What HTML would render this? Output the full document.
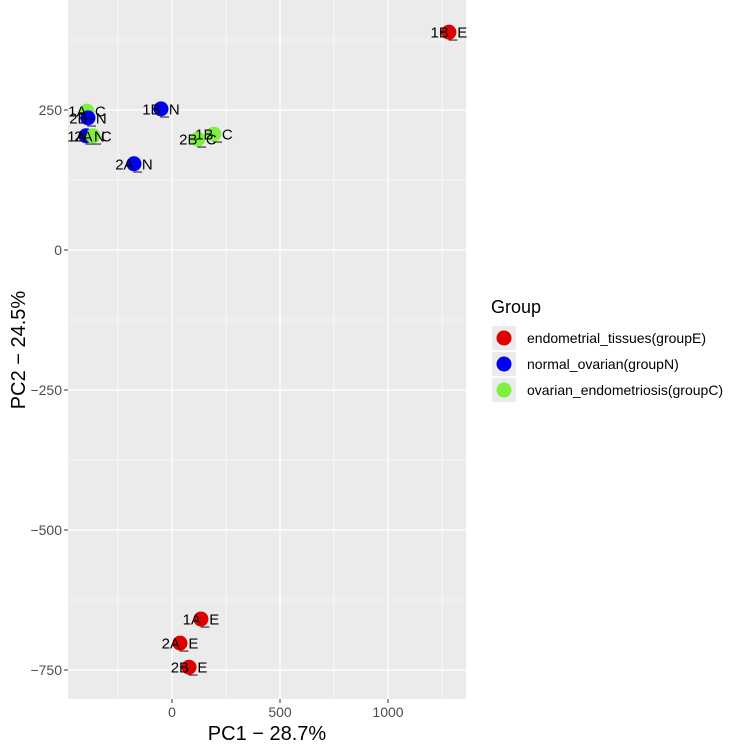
<!DOCTYPE html>
<html><head><meta charset="utf-8"><style>
body{margin:0;background:#fff;font-family:"Liberation Sans",sans-serif}
</style></head><body>
<svg width="738" height="743" xmlns="http://www.w3.org/2000/svg" font-family="Liberation Sans, sans-serif">
<g id="plot"></g>
</svg>
<script>
const labels=["1B_E","1B_N","1A_C","2B_N","1A_N","2A_C","2A_N","1B_C","2B_C","1A_E","2A_E","2B_E"];
const groups=["E","N","C","N","N","C","N","C","C","E","E","E"];
const pc1=[1282,-51,-394,-389,-398,-366,-176,194,120,134,37,79];
const pc2=[389,252,248,236,204,204,154,207,198,-659,-702,-745];
const xTicks=[0,500,1000];
const yTicks=[250,0,-250,-500,-750];
const groupNames=["endometrial_tissues(groupE)","normal_ovarian(groupN)","ovarian_endometriosis(groupC)"];
const groupKeys=["E","N","C"];
const colors={E:"#e00000",N:"#0000f0",C:"#80f040"};
const L=68,R=466,T=0,B=699;
const xs=v=>172+v*0.216, ys=v=>250-v*0.56;
const ns="http://www.w3.org/2000/svg";
const g=document.getElementById('plot');
function mk(t,a,p){const e=document.createElementNS(ns,t);for(const k in a)e.setAttribute(k,a[k]);(p||g).appendChild(e);return e;}
const bg=mk('rect',{x:L,y:T,width:R-L,height:B-T,fill:'#ebebeb'});


for(let v=-250;v<=1250;v+=500){const l=mk('line',{x1:xs(v),x2:xs(v),y1:T,y2:B,stroke:'#fff','stroke-width':0.6});}
for(let v=375;v>=-875;v-=250){const l=mk('line',{x1:L,x2:R,y1:ys(v),y2:ys(v),stroke:'#fff','stroke-width':0.6});}
xTicks.forEach(v=>{const l=mk('line',{x1:xs(v),x2:xs(v),y1:T,y2:B,stroke:'#fff','stroke-width':1.3});
mk('line',{x1:xs(v),x2:xs(v),y1:B,y2:B+4,stroke:'#333'});
const t=mk('text',{x:xs(v),y:B+18,'text-anchor':'middle','font-size':14,fill:'#4d4d4d'});t.textContent=v;});
yTicks.forEach(v=>{const l=mk('line',{x1:L,x2:R,y1:ys(v),y2:ys(v),stroke:'#fff','stroke-width':1.3});
mk('line',{x1:L-4,x2:L,y1:ys(v),y2:ys(v),stroke:'#333'});
const t=mk('text',{x:L-6,y:ys(v)+5,'text-anchor':'end','font-size':14,fill:'#4d4d4d'});t.textContent=v<0?'\u2212'+(-v):v;});
labels.forEach((s,i)=>{const c=mk('circle',{cx:xs(pc1[i]),cy:ys(pc2[i]),r:7.5,fill:colors[groups[i]]});});
labels.forEach((s,i)=>{const t=mk('text',{x:xs(pc1[i]),y:ys(pc2[i])+5.5,'text-anchor':'middle','font-size':15,fill:'#000'});t.textContent=s;});
let t=mk('text',{x:267,y:740,'text-anchor':'middle','font-size':20});t.textContent='PC1 \u2212 28.7%';
t=mk('text',{x:0,y:0,'text-anchor':'middle','font-size':20,transform:'translate(25,350) rotate(-90)'});t.textContent='PC2 \u2212 24.5%';
t=mk('text',{x:491,y:313,'font-size':18});t.textContent='Group';
groupNames.forEach((n,i)=>{const y=326+i*26;
const k=mk('rect',{x:492,y:y,width:24,height:24,fill:'#ebebeb'});
mk('circle',{cx:504,cy:y+12,r:7.5,fill:colors[groupKeys[i]]});
const tt=mk('text',{x:527,y:y+17,'font-size':14});tt.textContent=n;});
</script>
</body></html>
